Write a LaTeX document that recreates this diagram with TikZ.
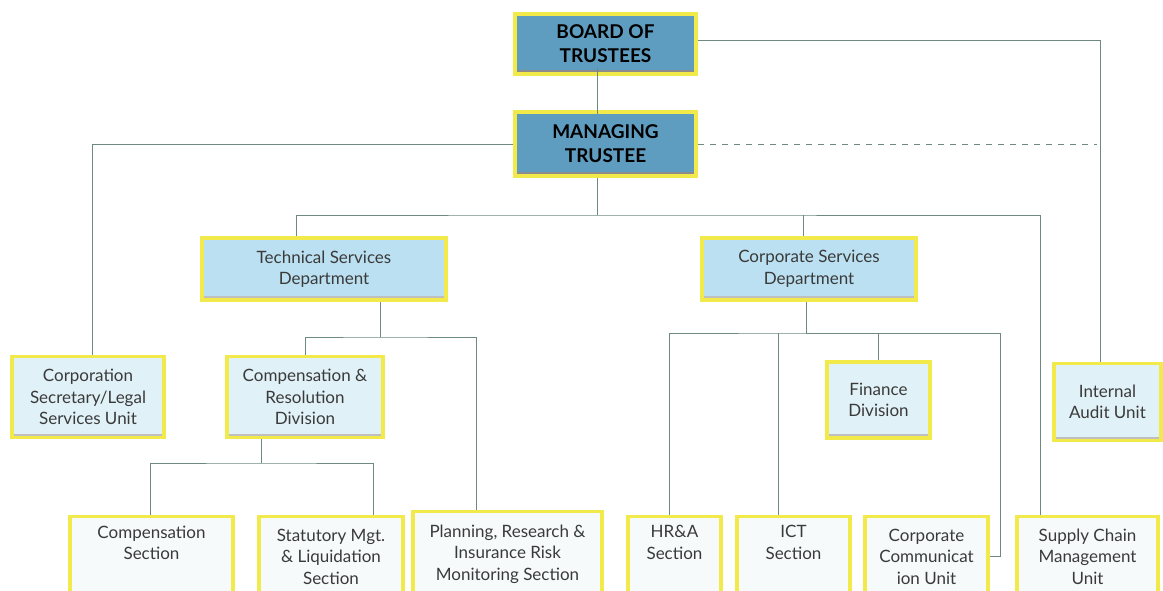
\documentclass[tikz,border=0pt]{standalone}
\usepackage{fontspec}
\setmainfont{Lato}
\definecolor{ybord}{HTML}{F2E94A}
\definecolor{topfill}{HTML}{5F9DC0}
\definecolor{midfill}{HTML}{BBE0F1}
\definecolor{lowfill}{HTML}{E0F1F7}
\definecolor{botfill}{HTML}{F7FAFB}
\definecolor{linec}{HTML}{6E8A80}
\definecolor{txtc}{HTML}{3A3A3A}
\tikzset{
  basebox/.style={draw=ybord, line width=3.5pt, rectangle, align=center, inner sep=2pt,
    font=\fontsize{17}{21.5}\selectfont, text=txtc,
    path picture={\draw[black!25, line width=2pt] ([yshift=3pt]path picture bounding box.south west) -- ([yshift=3pt]path picture bounding box.south east);}},
  topbox/.style={basebox, fill=topfill, text=black, font=\fontsize{19}{24}\bfseries\selectfont,
    path picture={\draw[black!45, line width=2pt] ([yshift=3pt]path picture bounding box.south west) -- ([yshift=3pt]path picture bounding box.south east);}},
  midbox/.style={basebox, fill=midfill},
  lowbox/.style={basebox, fill=lowfill},
  botbox/.style={basebox, fill=botfill},
  conn/.style={draw=linec, line width=0.8pt},
  dconn/.style={conn, dash pattern=on 6pt off 6pt}
}
\begin{document}
\begin{tikzpicture}[x=1pt,y=-1pt]
\useasboundingbox (0,0) rectangle (1163,590);
\clip (0,0) rectangle (1163,590);
\fill[white] (0,0) rectangle (1163,590);
% top
\node[topbox, minimum width=181pt, minimum height=60pt] (board) at (605.5,44) {BOARD OF\\TRUSTEES};
\node[topbox, minimum width=181pt, minimum height=64pt] (mt) at (605.5,144) {MANAGING\\TRUSTEE};
% departments
\node[midbox, minimum width=244pt, minimum height=62pt] (tsd) at (324,269) {Technical Services\\Department};
\node[midbox, minimum width=214pt, minimum height=62pt] (csd) at (809,269) {Corporate Services\\Department};
% third level
\node[lowbox, minimum width=152pt, minimum height=81pt] (corp) at (88,397) {Corporation\\Secretary/Legal\\Services Unit};
\node[lowbox, minimum width=156pt, minimum height=81pt] (cr) at (305,397) {Compensation \&\\Resolution\\Division};
\node[lowbox, minimum width=103pt, minimum height=76pt] (fin) at (878.5,400) {Finance\\Division};
\node[lowbox, minimum width=107pt, minimum height=77pt] (ia) at (1107.5,402) {Internal\\Audit Unit};
% bottom row
\node[botbox, minimum width=163pt, minimum height=80pt] (comp) at (151.5,556.5) {Compensation\\Section\\\strut};
\node[botbox, minimum width=144pt, minimum height=80pt] (stat) at (331,556.5) {Statutory Mgt.\\\& Liquidation\\Section};
\node[botbox, minimum width=189pt, minimum height=85pt] (plan) at (507.5,554) {Planning, Research \&\\Insurance Risk\\Monitoring Section};
\node[botbox, minimum width=93pt, minimum height=80pt] (hra) at (674.5,556.5) {HR\&A\\Section\\\strut};
\node[botbox, minimum width=113pt, minimum height=80pt] (ict) at (793.5,556.5) {ICT\\Section\\\strut};
\node[botbox, minimum width=123pt, minimum height=80pt] (cc) at (926.5,556.5) {Corporate\\Communicat\\ion Unit};
\node[botbox, minimum width=141pt, minimum height=80pt] (scm) at (1087.5,556.5) {Supply Chain\\Management\\Unit};
% helper coordinates
\coordinate (bus1) at (597,215);
\coordinate (b2) at (380,337);
\coordinate (b3) at (261,463);
\coordinate (b4) at (806,333);
\coordinate (ccr) at (1000,333);
\coordinate (dashend) at (1097,143);
% connectors
\draw[conn] ([xshift=-8.5pt,yshift=8pt]board.south) -- ([xshift=-8.5pt,yshift=-4pt]mt.north);
\draw[conn] ([yshift=4pt]board.east) -| ([xshift=-7pt]ia.north);
\draw[conn] (mt.west) -| ([xshift=4pt]corp.north);
\draw[dconn] (mt.east) -- (dashend |- mt.east);
\draw[conn] (mt.south -| bus1) -- (bus1);
\draw[conn] ([xshift=-28pt]tsd.north) |- (bus1) -| ([xshift=-47.5pt]scm.north);
\draw[conn] ([xshift=-6pt]csd.north) -- ([xshift=-6pt]csd.north |- bus1);
% technical services
\draw[conn] (tsd.south -| b2) -- (b2);
\draw[conn] (cr.north) |- (b2) -| ([xshift=-31.5pt]plan.north);
\draw[conn] (cr.south -| b3) -- (b3);
\draw[conn] ([xshift=-1.5pt]comp.north) |- (b3) -| ([xshift=42pt]stat.north);
% corporate services
\draw[conn] (csd.south -| b4) -- (b4);
\draw[conn] ([xshift=-5.5pt]hra.north) |- (b4) -| (fin.north);
\draw[conn] ([xshift=-15.5pt]ict.north) -- ([xshift=-15.5pt]ict.north |- b4);
\draw[conn] (b4) -- (ccr) |- (cc.east);
\end{tikzpicture}
\end{document}
